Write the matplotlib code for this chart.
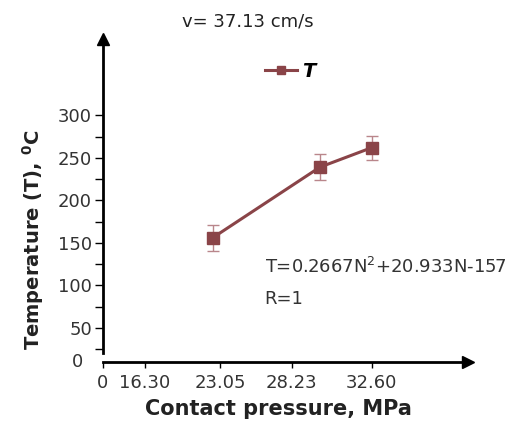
import matplotlib
matplotlib.use("Agg")
import matplotlib.pyplot as plt
from matplotlib.lines import Line2D

x_tick_pos = [0.0, 5.1, 14.2, 22.9, 32.6]
x_tick_labels = ["0", "16.30", "23.05", "28.23", "32.60"]
point_x = [13.3, 26.3, 32.6]
temperature = [156, 239, 262]
temperature_err = [15, 15, 14]
y_ticks = [50, 100, 150, 200, 250, 300]
y_minor_ticks = [25, 75, 125, 175, 225, 275]

title = "v= 37.13 cm/s"
xlabel = "Contact pressure, MPa"
ylabel = r"Temperature (T), $^{\mathbf{0}}$C"
equation = "T=0.2667N$^{2}$+20.933N-157"
r_text = "R=1"

plt.rcParams["font.family"] = ["DejaVu Sans"]

W, H = 521, 426
fig = plt.figure(figsize=(W / 100, H / 100), dpi=100)
left, right = 103 / W, 470 / W
bottom, top = 1 - 362 / H, 1 - 37 / H
ax = fig.add_axes([left, bottom, right - left, top - bottom])

color = "#8a4448"
ax.errorbar(point_x, temperature, yerr=temperature_err, color=color,
            marker="s", markersize=9, linewidth=2.2, ecolor="#b9868b",
            elinewidth=1, capsize=4, capthick=1, zorder=3)

ax.set_xlim(0, 44.5)
ax.set_ylim(10, 392)

for s in ["top", "right"]:
    ax.spines[s].set_visible(False)
ax.spines["left"].set_bounds(20, 392)
ax.spines["left"].set_linewidth(2)
ax.spines["bottom"].set_linewidth(2)

# arrow heads
ax.plot([0], [390], marker="^", color="black", markersize=8, clip_on=False)
ax.plot([44.2], [10], marker=">", color="black", markersize=8, clip_on=False)

tick_color = "#333333"
ax.set_xticks(x_tick_pos)
ax.set_xticklabels(x_tick_labels, fontsize=13, color=tick_color)
ax.set_yticks(y_ticks)
ax.set_yticklabels([str(v) for v in y_ticks], fontsize=13, color=tick_color)
ax.set_yticks(y_minor_ticks, minor=True)
ax.tick_params(axis="y", which="both", direction="out", length=6, width=1, pad=2)
ax.tick_params(axis="x", direction="out", length=4, width=1, pad=5)
ax.text(-0.07, 0.0, "0", transform=ax.transAxes, fontsize=13, color=tick_color,
        ha="center", va="center")

ax.set_xlabel(xlabel, fontsize=15, fontweight="bold", color="#222222")
ax.xaxis.set_label_coords(0.477, -0.115)
ax.set_ylabel(ylabel, fontsize=14, fontweight="bold", color="#222222")
ax.yaxis.set_label_coords(-0.155, 0.375)
fig.text(248 / W, 1 - 21 / H, title, fontsize=13,
         ha="center", va="center", color="#222222")

handle = Line2D([], [], color=color, marker="s", markersize=6, linewidth=2.2)
ax.legend([handle], ["T"], loc="center left", bbox_to_anchor=(0.395, 0.895),
          frameon=False, handlelength=1.6, handletextpad=0.3,
          prop={"weight": "bold", "style": "italic", "size": 14})

ax.text(19.6, 122, equation, fontsize=13, color=tick_color, va="center")
ax.text(19.6, 84, r_text, fontsize=13, color=tick_color, va="center")

fig.savefig("out.png", dpi=100)
